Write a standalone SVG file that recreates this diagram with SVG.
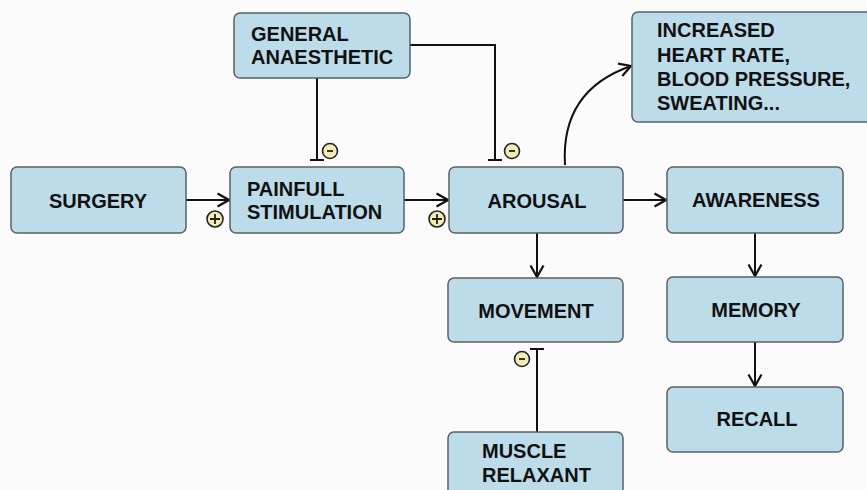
<svg xmlns="http://www.w3.org/2000/svg" width="867" height="490" viewBox="0 0 867 490">
<defs>
<style>
.box{fill:#bddcea;stroke:#5a6066;stroke-width:1.5}
.t{font-family:"Liberation Sans",Arial,sans-serif;font-weight:bold;font-size:20px;fill:#111}
.c{text-anchor:middle}
.ln{fill:none;stroke:#111;stroke-width:2}
.sg{fill:#f2ecb4;stroke:#222;stroke-width:1.6}
.sy{fill:none;stroke:#222;stroke-width:1.8}
</style>
<marker id="arr" viewBox="0 0 16 16" refX="14.5" refY="8" markerWidth="16" markerHeight="16" markerUnits="userSpaceOnUse" orient="auto">
<path d="M3,1.5 L14.5,8 L3,14.5" fill="none" stroke="#111" stroke-width="2.2"/>
</marker>
</defs>
<rect width="867" height="490" fill="#fbfbfb"/>
<g id="connectors">
<line class="ln" x1="186" y1="200" x2="229" y2="200" marker-end="url(#arr)"/>
<line class="ln" x1="404" y1="200" x2="448" y2="200" marker-end="url(#arr)"/>
<line class="ln" x1="623" y1="200" x2="666" y2="200" marker-end="url(#arr)"/>
<line class="ln" x1="537" y1="233" x2="537" y2="277" marker-end="url(#arr)"/>
<line class="ln" x1="755" y1="233" x2="755" y2="276" marker-end="url(#arr)"/>
<line class="ln" x1="755" y1="342" x2="755" y2="386" marker-end="url(#arr)"/>
<path class="ln" d="M565,165 C562,115 585,82 631,66" marker-end="url(#arr)"/>
<line class="ln" x1="317" y1="78" x2="317" y2="160"/>
<line class="ln" x1="310" y1="160" x2="324" y2="160"/>
<polyline class="ln" points="410,45 495,45 495,160"/>
<line class="ln" x1="488" y1="160" x2="502" y2="160"/>
<line class="ln" x1="537" y1="432" x2="537" y2="349"/>
<line class="ln" x1="530" y1="349" x2="544" y2="349"/>
<g id="sign-plus-1"><circle class="sg" cx="215" cy="219" r="8"/><path class="sy" d="M210,219 h10 M215,214 v10"/></g>
<g id="sign-plus-2"><circle class="sg" cx="437" cy="219" r="8"/><path class="sy" d="M432,219 h10 M437,214 v10"/></g>
<g id="sign-minus-1"><circle class="sg" cx="330" cy="151" r="7.5"/><path class="sy" d="M327,151 h6"/></g>
<g id="sign-minus-2"><circle class="sg" cx="512" cy="151" r="7.5"/><path class="sy" d="M509,151 h6"/></g>
<g id="sign-minus-3"><circle class="sg" cx="522" cy="359" r="7.5"/><path class="sy" d="M519,359 h6"/></g>
</g>
<g id="surgery"><rect class="box" x="11" y="167" width="175" height="66" rx="6"/><text class="t c" x="98" y="208">SURGERY</text></g>
<g id="painfull"><rect class="box" x="230" y="167" width="174" height="66" rx="6"/><text class="t" x="247" y="196">PAINFULL</text><text class="t" x="247" y="219">STIMULATION</text></g>
<g id="arousal"><rect class="box" x="449" y="167" width="174" height="66" rx="6"/><text class="t c" x="537" y="208">AROUSAL</text></g>
<g id="awareness"><rect class="box" x="667" y="167" width="176" height="66" rx="6"/><text class="t c" x="756" y="207">AWARENESS</text></g>
<g id="memory"><rect class="box" x="667" y="277" width="176" height="65" rx="6"/><text class="t c" x="756" y="317">MEMORY</text></g>
<g id="recall"><rect class="box" x="667" y="387" width="176" height="65" rx="6"/><text class="t c" x="757" y="426">RECALL</text></g>
<g id="movement"><rect class="box" x="448" y="278" width="175" height="64" rx="6"/><text class="t c" x="536" y="318">MOVEMENT</text></g>
<g id="muscle-relaxant"><rect class="box" x="448" y="432" width="175" height="70" rx="6"/><text class="t" x="482" y="458">MUSCLE</text><text class="t" x="482" y="482">RELAXANT</text></g>
<g id="general-anaesthetic"><rect class="box" x="234" y="13" width="176" height="65" rx="6"/><text class="t" x="251" y="41">GENERAL</text><text class="t" x="251" y="64">ANAESTHETIC</text></g>
<g id="increased"><rect class="box" x="632" y="12" width="245" height="110" rx="6"/><text class="t" x="657" y="37">INCREASED</text><text class="t" x="657" y="62">HEART RATE,</text><text class="t" x="657" y="86">BLOOD PRESSURE,</text><text class="t" x="657" y="110">SWEATING...</text></g>
</svg>
